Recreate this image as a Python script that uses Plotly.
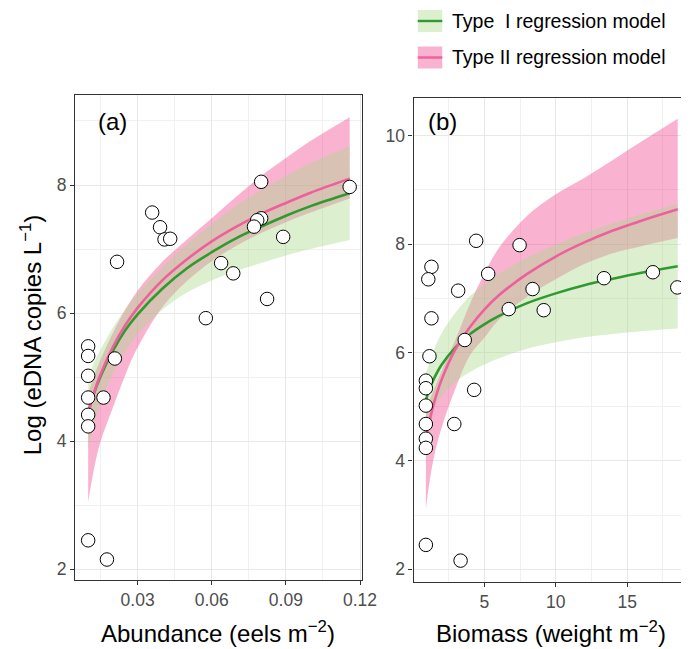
import plotly.graph_objects as go

# ---------------- data ----------------
# Panel (a): abundance (eels m^-2) vs log eDNA
abund_x = [0.0800, 0.1158, 0.0359, 0.0391, 0.0409, 0.0432, 0.0800, 0.0784, 0.0771, 0.0889,
           0.0217, 0.0638, 0.0687, 0.0824, 0.0576, 0.0100, 0.0100, 0.0208, 0.0100, 0.0100,
           0.0162, 0.0100, 0.0100, 0.0100, 0.0176]
abund_y = [8.05, 7.97, 7.57, 7.34, 7.15, 7.16, 7.48, 7.45, 7.35, 7.19,
           6.80, 6.78, 6.62, 6.22, 5.92, 5.48, 5.33, 5.29, 5.02, 4.68,
           4.68, 4.41, 4.23, 2.45, 2.15]

# Panel (b): biomass (weight m^-2) vs log eDNA
biom_x = [4.43, 7.47, 1.30, 1.08, 3.17, 5.27, 8.38, 6.71, 9.16, 13.38,
          16.80, 18.51, 1.30, 3.63, 1.16, 0.91, 0.91, 4.29, 0.91, 0.91,
          2.90, 0.91, 0.91, 0.91, 3.34]
biom_y = [8.06, 7.98, 7.58, 7.35, 7.14, 7.45, 7.17, 6.80, 6.78, 7.37,
          7.48, 7.20, 6.63, 6.23, 5.93, 5.48, 5.34, 5.31, 5.02, 4.68,
          4.68, 4.41, 4.24, 2.45, 2.16]

# Fitted curves and ribbons, panel (a)
fit_a_x = [0.010, 0.0125, 0.015, 0.02, 0.025, 0.03, 0.04, 0.05, 0.06, 0.07, 0.08, 0.09, 0.10, 0.1158]
t1_a_fit = [4.44, 4.76, 5.01, 5.41, 5.73, 5.98, 6.38, 6.70, 6.95, 7.17, 7.35, 7.52, 7.67, 7.87]
t1_a_lo = [3.89, 4.28, 4.59, 5.05, 5.40, 5.66, 6.05, 6.32, 6.51, 6.66, 6.78, 6.90, 7.00, 7.14]
t1_a_hi = [4.99, 5.24, 5.43, 5.77, 6.06, 6.30, 6.71, 7.08, 7.39, 7.68, 7.92, 8.14, 8.34, 8.60]
t2_a_fit = [4.44, 4.77, 5.04, 5.47, 5.81, 6.08, 6.51, 6.84, 7.12, 7.35, 7.55, 7.72, 7.88, 8.10]
t2_a_lo = [3.05, 3.59, 3.99, 4.52, 5.03, 5.46, 6.09, 6.50, 6.81, 7.05, 7.25, 7.42, 7.57, 7.79]
t2_a_hi = [4.74, 5.03, 5.27, 5.69, 6.05, 6.35, 6.80, 7.15, 7.48, 7.82, 8.14, 8.42, 8.69, 9.06]

# Fitted curves and ribbons, panel (b)
fit_b_x = [0.91, 1.0, 1.25, 1.5, 2, 3, 4, 5, 6, 8, 10, 12, 14, 16, 18.54]
t1_b_fit = [5.12, 5.20, 5.38, 5.53, 5.77, 6.10, 6.34, 6.52, 6.67, 6.91, 7.09, 7.24, 7.36, 7.47, 7.59]
t1_b_lo = [4.62, 4.72, 4.88, 4.99, 5.19, 5.46, 5.64, 5.78, 5.89, 6.07, 6.19, 6.28, 6.34, 6.39, 6.44]
t1_b_hi = [5.62, 5.68, 5.88, 6.07, 6.35, 6.74, 7.04, 7.26, 7.45, 7.75, 7.99, 8.20, 8.38, 8.55, 8.74]
t2_b_fit = [4.42, 4.53, 4.83, 5.09, 5.49, 6.07, 6.47, 6.79, 7.05, 7.45, 7.77, 8.03, 8.25, 8.43, 8.64]
t2_b_lo = [3.10, 3.30, 3.75, 4.10, 4.60, 5.35, 5.95, 6.27, 6.60, 7.03, 7.35, 7.63, 7.83, 7.96, 8.11]
t2_b_hi = [4.90, 5.00, 5.17, 5.33, 5.65, 6.25, 6.90, 7.45, 7.92, 8.52, 8.92, 9.22, 9.55, 9.89, 10.31]

legend_labels = ["Type\u00a0 I regression model", "Type II regression model"]

# ---------------- styles ----------------
W, H = 696, 649
FONT = "Liberation Sans, Arial, Helvetica, sans-serif"
GREEN_LINE = "#2f9a2f"
PINK_LINE = "#ee5f9c"
GREEN_FILL = "rgba(167,217,137,0.4)"
PINK_FILL = "rgba(240,65,140,0.4)"

fig = go.Figure()


def add_panel(xa, ya, fx, g_fit, g_lo, g_hi, p_fit, p_lo, p_hi, px, py):
    # Type II ribbon (drawn first)
    fig.add_trace(go.Scatter(x=fx, y=p_lo, mode="lines", line=dict(width=0, shape="spline"),
                             hoverinfo="skip", showlegend=False, xaxis=xa, yaxis=ya))
    fig.add_trace(go.Scatter(x=fx, y=p_hi, mode="lines", line=dict(width=0, shape="spline"),
                             fill="tonexty", fillcolor=PINK_FILL,
                             hoverinfo="skip", showlegend=False, xaxis=xa, yaxis=ya))
    # Type I ribbon
    fig.add_trace(go.Scatter(x=fx, y=g_lo, mode="lines", line=dict(width=0, shape="spline"),
                             hoverinfo="skip", showlegend=False, xaxis=xa, yaxis=ya))
    fig.add_trace(go.Scatter(x=fx, y=g_hi, mode="lines", line=dict(width=0, shape="spline"),
                             fill="tonexty", fillcolor=GREEN_FILL,
                             hoverinfo="skip", showlegend=False, xaxis=xa, yaxis=ya))
    # fitted lines
    fig.add_trace(go.Scatter(x=fx, y=g_fit, mode="lines",
                             line=dict(color=GREEN_LINE, width=2.6, shape="spline"),
                             showlegend=False, xaxis=xa, yaxis=ya))
    fig.add_trace(go.Scatter(x=fx, y=p_fit, mode="lines",
                             line=dict(color=PINK_LINE, width=2.6, shape="spline"),
                             showlegend=False, xaxis=xa, yaxis=ya))
    # points
    fig.add_trace(go.Scatter(x=px, y=py, mode="markers",
                             marker=dict(size=13.5, color="white", line=dict(color="black", width=1)),
                             showlegend=False, xaxis=xa, yaxis=ya))


add_panel("x", "y", fit_a_x, t1_a_fit, t1_a_lo, t1_a_hi, t2_a_fit, t2_a_lo, t2_a_hi, abund_x, abund_y)
add_panel("x2", "y2", fit_b_x, t1_b_fit, t1_b_lo, t1_b_hi, t2_b_fit, t2_b_lo, t2_b_hi, biom_x, biom_y)

axis_common = dict(
    showgrid=True, gridcolor="#e8e8e8", gridwidth=1.2, zeroline=False,
    showline=True, linecolor="#333333", linewidth=1.2,
    ticks="outside", ticklen=4, tickcolor="#333333", tickwidth=1.1,
    tickfont=dict(family=FONT, size=17.5, color="#4d4d4d"),
)

fig.update_layout(
    width=W, height=H, autosize=False,
    margin=dict(l=0, r=0, t=0, b=0),
    paper_bgcolor="white", plot_bgcolor="white",
    showlegend=False,
    xaxis=dict(domain=[76.7 / W, 370 / W], range=[0.0047, 0.1208],
               tickvals=[0.03, 0.06, 0.09, 0.12], ticktext=["0.03", "0.06", "0.09", "0.12"],
               minor=dict(showgrid=True, gridcolor="#f1f1f1", gridwidth=0.8,
                          tickvals=[0.015, 0.045, 0.075, 0.105], ticks=""),
               mirror=True, anchor="y", **axis_common),
    yaxis=dict(domain=[1 - 580 / H, 1 - 95 / H], range=[1.83, 9.406],
               tickvals=[2, 4, 6, 8],
               minor=dict(showgrid=True, gridcolor="#f1f1f1", gridwidth=0.8,
                          tickvals=[3, 5, 7, 9], ticks=""),
               mirror=True, anchor="x", **axis_common),
    xaxis2=dict(domain=[422.7 / W, 1.0], range=[0.05, 18.77],
                tickvals=[5, 10, 15],
                minor=dict(showgrid=True, gridcolor="#f1f1f1", gridwidth=0.8,
                           tickvals=[2.5, 7.5, 12.5, 17.5], ticks=""),
                mirror=True, anchor="y2", **axis_common),
    yaxis2=dict(domain=[1 - 582.3 / H, 1 - 97.7 / H], range=[1.76, 10.70],
                tickvals=[2, 4, 6, 8, 10],
                minor=dict(showgrid=True, gridcolor="#f1f1f1", gridwidth=0.8,
                           tickvals=[3, 5, 7, 9], ticks=""),
                mirror=False, anchor="x2", **axis_common),
)

ann = []
def add_text(text, px, py, size, xanchor="center", angle=0, color="black"):
    ann.append(dict(text=text, x=px / W, y=1 - py / H, xref="paper", yref="paper",
                    xanchor=xanchor, yanchor="middle", showarrow=False, textangle=angle,
                    font=dict(family=FONT, size=size, color=color)))

add_text("Abundance (eels m<sup>\u22122</sup>)", 223, 632, 24)
add_text("Biomass (weight m<sup>\u22122</sup>)", 563, 632, 24)
add_text("Log (eDNA copies L<sup>\u22121</sup>)", 32, 335, 24, angle=-90)
add_text("(a)", 115, 122, 24)
add_text("(b)", 452, 122, 24)
add_text(legend_labels[0], 460, 21, 19.5, xanchor="left")
add_text(legend_labels[1], 460, 57, 19.5, xanchor="left")
fig.update_layout(annotations=ann)

# legend keys
shapes = []
for (y0, y1, fillc, linec) in [(10, 32, GREEN_FILL, GREEN_LINE), (46.5, 68.5, PINK_FILL, PINK_LINE)]:
    shapes.append(dict(type="rect", xref="paper", yref="paper",
                       x0=427 / W, x1=452 / W, y0=1 - y1 / H, y1=1 - y0 / H,
                       fillcolor=fillc, line=dict(width=0)))
    ym = (y0 + y1) / 2
    shapes.append(dict(type="line", xref="paper", yref="paper",
                       x0=427 / W, x1=452 / W, y0=1 - ym / H, y1=1 - ym / H,
                       line=dict(color=linec, width=2.4)))
fig.update_layout(shapes=shapes)

post = (
    "(function(){"
    "var st=document.createElement('style');"
    "st.textContent='html,body{margin:0!important;padding:0!important;overflow:hidden!important;}"
    "::-webkit-scrollbar{display:none;width:0;height:0;}';"
    "document.head.appendChild(st);"
    "var gd=document.getElementById('{plot_id}');"
    "gd.style.width='696px';gd.style.height='649px';"
    "function fix(){Plotly.relayout(gd,{width:696,height:649,autosize:false});}"
    "fix();setTimeout(fix,50);setTimeout(fix,300);"
    "window.addEventListener('resize',function(){setTimeout(fix,10);});"
    "})();"
)

fig.write_html(
    "out.html",
    config={"responsive": False, "displayModeBar": False},
    post_script=post,
)
